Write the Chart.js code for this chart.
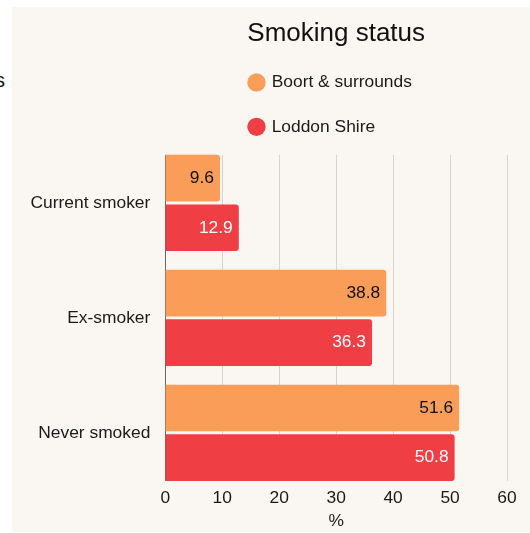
<!DOCTYPE html>
<html>
<head>
<meta charset="utf-8">
<script src="https://cdn.jsdelivr.net/npm/chart.js@4.4.1/dist/chart.umd.min.js"></script>
<style>
  html, body { margin: 0; padding: 0; background: #ffffff; overflow: hidden; }
  body { width: 530px; height: 533px; position: relative; font-family: "Liberation Sans", Arial, sans-serif; }
  .edge-text { position: absolute; left: -5px; top: 70px; font-size: 20px; line-height: 20px; color: #111; }
  .panel { position: absolute; left: 12px; top: 7px; width: 518px; height: 525px; background: #faf7f2; }
</style>
</head>
<body>
<div class="edge-text">s</div>
<div class="panel"><canvas id="smokingChart"></canvas></div>
<script>
const categories = ['Current smoker', 'Ex-smoker', 'Never smoked'];
const seriesNames = ['Boort & surrounds', 'Loddon Shire'];
const boortValues = [9.6, 38.8, 51.6];
const loddonValues = [12.9, 36.3, 50.8];
const xTicks = [0, 10, 20, 30, 40, 50, 60];

const barColours = ['#f99d59', '#ef3e44'];
const labelColours = ['#111111', '#ffffff'];
const gridColour = '#d8d5d0';
const axisColour = '#666666';
const fontFamily = '"Liberation Sans", Arial, sans-serif';
const textSize = 17.4;
const titleSize = 26;
const legendBox = 13;

Chart.defaults.font.family = fontFamily;
Chart.defaults.font.size = textSize;
Chart.defaults.color = '#1a1a1a';

// value printed inside the end of each bar
const barValueLabels = {
    id: 'barValueLabels',
    afterDatasetsDraw(chart) {
        const ctx = chart.ctx;
        ctx.save();
        ctx.font = textSize + 'px ' + fontFamily;
        ctx.textAlign = 'right';
        ctx.textBaseline = 'middle';
        chart.data.datasets.forEach((ds, i) => {
            chart.getDatasetMeta(i).data.forEach((bar, j) => {
                ctx.fillStyle = labelColours[i];
                ctx.fillText(ds.data[j].toFixed(1), bar.x - 6, bar.y);
            });
        });
        ctx.restore();
    }
};

// vertical grid + y axis line, running from the first bar's top to the last bar's bottom
const barSpanGrid = {
    id: 'barSpanGrid',
    beforeDatasetsDraw(chart) {
        const first = chart.getDatasetMeta(0).data[0];
        const lastMeta = chart.getDatasetMeta(chart.data.datasets.length - 1);
        const last = lastMeta.data[lastMeta.data.length - 1];
        const top = first.y - first.height / 2;
        const bottom = last.y + last.height / 2;
        const x = chart.scales.x;
        const ctx = chart.ctx;
        ctx.save();
        ctx.lineWidth = 1;
        xTicks.forEach(v => {
            const px = Math.round(x.getPixelForValue(v)) + 0.5;
            ctx.strokeStyle = v === 0 ? axisColour : gridColour;
            ctx.beginPath();
            ctx.moveTo(px, top);
            ctx.lineTo(px, bottom);
            ctx.stroke();
        });
        ctx.restore();
    }
};

// stack the legend rows under the left edge of the title text
const legendUnderTitle = {
    id: 'legendUnderTitle',
    afterLayout(chart) {
        const legend = chart.legend;
        const area = chart.chartArea;
        const ctx = chart.ctx;
        ctx.save();
        ctx.font = titleSize + 'px ' + fontFamily;
        const w = ctx.measureText(chart.options.plugins.title.text).width;
        ctx.restore();
        const titleLeft = (area.left + area.right) / 2 - w / 2;
        const radius = legendBox * Math.SQRT2 / 2;
        const pad = legend.options.labels.padding;
        const shift = titleLeft - (legend.left + pad) + (radius - legendBox / 2);
        legend.left += shift;
        legend.right += shift;
    }
};

const data = {
    labels: categories,
    datasets: [{
        label: seriesNames[0],
        data: boortValues,
        backgroundColor: barColours[0],
        borderRadius: 3,
        borderSkipped: 'start',
        barPercentage: 0.94,
        categoryPercentage: 0.864
    }, {
        label: seriesNames[1],
        data: loddonValues,
        backgroundColor: barColours[1],
        borderRadius: 3,
        borderSkipped: 'start',
        barPercentage: 0.94,
        categoryPercentage: 0.864
    }]
};

const config = {
    type: 'bar',
    data: data,
    options: {
        indexAxis: 'y',
        responsive: true,
        maintainAspectRatio: false,
        animation: false,
        layout: { padding: { left: 3.5, right: 23, top: 0, bottom: 0 } },
        scales: {
            x: {
                min: 0,
                max: 60,
                afterBuildTicks(scale) {
                    scale.ticks = xTicks.map(v => ({ value: v }));
                },
                grid: { display: false, drawTicks: false },
                border: { display: false },
                ticks: { padding: -2, color: '#1a1a1a' },
                title: { display: true, text: '%', padding: { top: 4, bottom: 0 }, color: '#1a1a1a' }
            },
            y: {
                grid: { display: false, drawTicks: false },
                border: { display: false },
                ticks: { padding: 15, color: '#1a1a1a' }
            }
        },
        plugins: {
            title: {
                display: true,
                text: 'Smoking status',
                fullSize: false,
                color: '#111111',
                font: { size: titleSize, weight: 'normal', lineHeight: 0.97 },
                padding: { top: 14.5, bottom: 0 }
            },
            legend: {
                display: true,
                position: 'top',
                align: 'start',
                fullSize: false,
                labels: {
                    usePointStyle: true,
                    pointStyle: 'circle',
                    boxWidth: legendBox,
                    boxHeight: legendBox,
                    padding: 27,
                    color: '#1a1a1a',
                    font: { size: textSize }
                }
            },
            tooltip: { enabled: false }
        }
    },
    plugins: [barSpanGrid, barValueLabels, legendUnderTitle]
};

new Chart(document.getElementById('smokingChart'), config);
</script>
</body>
</html>
